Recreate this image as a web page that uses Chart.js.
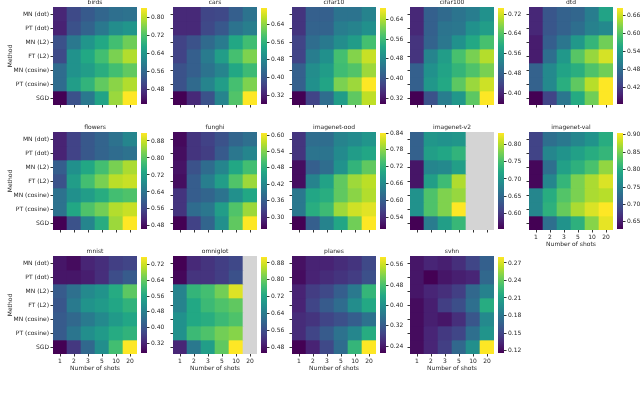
<!DOCTYPE html>
<html>
<head>
<meta charset="utf-8">
<script src="https://cdn.jsdelivr.net/npm/chart.js@4.4.0/dist/chart.umd.min.js"></script>
<style>
  html, body { margin: 0; padding: 0; background: #fff; }
  #fig { position: relative; width: 640px; height: 393px; overflow: hidden; }
  #fig canvas { position: absolute; }
</style>
</head>
<body>
<div id="fig"></div>
<script>
// x categories and row labels
const shots = ['1', '2', '3', '5', '10', '20'];
const methods = ['MN (dot)', 'PT (dot)', 'MN (L2)', 'FT (L2)', 'MN (cosine)', 'PT (cosine)', 'SGD'];

// accuracy per method (rows) x shots (cols)
const birds = [
    [0.46, 0.51, 0.535, 0.555, 0.57, 0.575],
    [0.455, 0.52, 0.55, 0.585, 0.62, 0.635],
    [0.52, 0.585, 0.635, 0.67, 0.71, 0.745],
    [0.51, 0.63, 0.67, 0.71, 0.755, 0.79],
    [0.565, 0.63, 0.65, 0.68, 0.71, 0.735],
    [0.565, 0.65, 0.69, 0.735, 0.765, 0.79],
    [0.415, 0.52, 0.585, 0.66, 0.775, 0.84],
];
const cars = [
    [0.33, 0.33, 0.37, 0.375, 0.41, 0.445],
    [0.33, 0.33, 0.375, 0.40, 0.445, 0.465],
    [0.365, 0.39, 0.43, 0.46, 0.54, 0.58],
    [0.365, 0.41, 0.46, 0.52, 0.585, 0.63],
    [0.39, 0.41, 0.445, 0.475, 0.54, 0.575],
    [0.39, 0.43, 0.475, 0.52, 0.585, 0.63],
    [0.28, 0.33, 0.39, 0.475, 0.595, 0.715],
];
const cifar10 = [
    [0.355, 0.415, 0.415, 0.445, 0.445, 0.47],
    [0.355, 0.42, 0.42, 0.46, 0.47, 0.49],
    [0.375, 0.435, 0.455, 0.485, 0.51, 0.57],
    [0.375, 0.46, 0.49, 0.57, 0.615, 0.655],
    [0.415, 0.485, 0.51, 0.565, 0.58, 0.63],
    [0.415, 0.49, 0.525, 0.61, 0.63, 0.688],
    [0.296, 0.375, 0.435, 0.51, 0.59, 0.65],
];
const cifar100 = [
    [0.40, 0.475, 0.49, 0.505, 0.52, 0.55],
    [0.40, 0.475, 0.505, 0.51, 0.55, 0.57],
    [0.415, 0.48, 0.51, 0.55, 0.59, 0.63],
    [0.415, 0.53, 0.57, 0.63, 0.665, 0.70],
    [0.475, 0.55, 0.58, 0.61, 0.635, 0.665],
    [0.475, 0.56, 0.59, 0.645, 0.685, 0.715],
    [0.357, 0.455, 0.52, 0.56, 0.645, 0.744],
];
const dtd = [
    [0.40, 0.45, 0.465, 0.47, 0.50, 0.55],
    [0.40, 0.45, 0.465, 0.48, 0.505, 0.515],
    [0.39, 0.46, 0.49, 0.535, 0.575, 0.615],
    [0.39, 0.48, 0.535, 0.60, 0.635, 0.665],
    [0.465, 0.515, 0.55, 0.565, 0.595, 0.615],
    [0.465, 0.515, 0.565, 0.605, 0.65, 0.685],
    [0.365, 0.43, 0.49, 0.56, 0.615, 0.685],
];
const flowers = [
    [0.51, 0.555, 0.59, 0.61, 0.635, 0.67],
    [0.51, 0.555, 0.59, 0.61, 0.625, 0.635],
    [0.60, 0.69, 0.735, 0.78, 0.825, 0.86],
    [0.58, 0.715, 0.78, 0.825, 0.87, 0.88],
    [0.635, 0.69, 0.715, 0.745, 0.78, 0.79],
    [0.635, 0.735, 0.79, 0.82, 0.865, 0.88],
    [0.466, 0.58, 0.67, 0.745, 0.85, 0.917],
];
const funghi = [
    [0.265, 0.31, 0.325, 0.345, 0.37, 0.385],
    [0.27, 0.31, 0.32, 0.355, 0.395, 0.415],
    [0.275, 0.345, 0.38, 0.415, 0.465, 0.50],
    [0.27, 0.36, 0.405, 0.45, 0.51, 0.555],
    [0.31, 0.36, 0.37, 0.39, 0.43, 0.465],
    [0.31, 0.38, 0.395, 0.45, 0.51, 0.555],
    [0.257, 0.325, 0.37, 0.43, 0.52, 0.607],
];
const imagenetOod = [
    [0.55, 0.62, 0.62, 0.65, 0.66, 0.675],
    [0.55, 0.63, 0.63, 0.66, 0.685, 0.70],
    [0.51, 0.60, 0.62, 0.67, 0.72, 0.755],
    [0.51, 0.65, 0.695, 0.755, 0.79, 0.805],
    [0.635, 0.70, 0.71, 0.755, 0.78, 0.80],
    [0.635, 0.71, 0.73, 0.79, 0.815, 0.825],
    [0.498, 0.60, 0.65, 0.70, 0.765, 0.84],
];
const imagenetV2 = [
    [0.64, 0.70, 0.695, 0.70, null, null],
    [0.64, 0.71, 0.72, 0.735, null, null],
    [0.57, 0.68, 0.685, 0.71, null, null],
    [0.57, 0.71, 0.745, 0.80, null, null],
    [0.695, 0.755, 0.78, 0.79, null, null],
    [0.695, 0.755, 0.78, 0.834, null, null],
    [0.554, 0.67, 0.71, 0.74, null, null],
];
const imagenetVal = [
    [0.685, 0.73, 0.74, 0.755, 0.77, 0.80],
    [0.685, 0.755, 0.77, 0.785, 0.80, 0.81],
    [0.635, 0.73, 0.785, 0.805, 0.825, 0.86],
    [0.635, 0.755, 0.81, 0.85, 0.87, 0.89],
    [0.755, 0.80, 0.83, 0.85, 0.87, 0.875],
    [0.755, 0.805, 0.84, 0.87, 0.89, 0.905],
    [0.63, 0.73, 0.77, 0.805, 0.855, 0.895],
];
const mnist = [
    [0.30, 0.285, 0.32, 0.335, 0.36, 0.37],
    [0.30, 0.30, 0.31, 0.335, 0.385, 0.41],
    [0.41, 0.45, 0.50, 0.52, 0.57, 0.635],
    [0.40, 0.47, 0.52, 0.535, 0.56, 0.585],
    [0.41, 0.435, 0.47, 0.50, 0.535, 0.56],
    [0.41, 0.46, 0.51, 0.535, 0.57, 0.585],
    [0.27, 0.35, 0.435, 0.51, 0.61, 0.76],
];
const omniglot = [
    [0.452, 0.505, 0.52, 0.535, 0.55, null],
    [0.46, 0.52, 0.52, 0.535, 0.565, null],
    [0.655, 0.75, 0.77, 0.81, 0.885, null],
    [0.655, 0.725, 0.76, 0.78, 0.795, null],
    [0.68, 0.725, 0.735, 0.76, 0.78, null],
    [0.68, 0.76, 0.78, 0.81, 0.825, null],
    [0.50, 0.635, 0.705, 0.795, 0.908, null],
];
const planes = [
    [0.23, 0.25, 0.25, 0.26, 0.27, 0.295],
    [0.225, 0.25, 0.26, 0.27, 0.28, 0.305],
    [0.25, 0.28, 0.295, 0.325, 0.365, 0.46],
    [0.25, 0.29, 0.32, 0.345, 0.395, 0.44],
    [0.26, 0.27, 0.29, 0.305, 0.325, 0.355],
    [0.26, 0.29, 0.32, 0.355, 0.385, 0.445],
    [0.213, 0.25, 0.295, 0.345, 0.46, 0.59],
];
const svhn = [
    [0.126, 0.133, 0.13, 0.138, 0.15, 0.166],
    [0.126, 0.116, 0.126, 0.13, 0.133, 0.171],
    [0.126, 0.133, 0.138, 0.146, 0.171, 0.188],
    [0.121, 0.13, 0.146, 0.155, 0.176, 0.217],
    [0.121, 0.13, 0.126, 0.138, 0.16, 0.193],
    [0.121, 0.133, 0.143, 0.15, 0.176, 0.20],
    [0.121, 0.133, 0.146, 0.171, 0.197, 0.28],
];

// colorbar tick labels
const birdsTicks = [0.48, 0.56, 0.64, 0.72, 0.80];
const carsTicks = [0.32, 0.40, 0.48, 0.56, 0.64];
const cifar10Ticks = [0.32, 0.40, 0.48, 0.56, 0.64];
const cifar100Ticks = [0.40, 0.48, 0.56, 0.64, 0.72];
const dtdTicks = [0.42, 0.48, 0.54, 0.60, 0.66];
const flowersTicks = [0.48, 0.56, 0.64, 0.72, 0.80, 0.88];
const funghiTicks = [0.30, 0.36, 0.42, 0.48, 0.54, 0.60];
const imagenetOodTicks = [0.54, 0.60, 0.66, 0.72, 0.78, 0.84];
const imagenetV2Ticks = [0.60, 0.65, 0.70, 0.75, 0.80];
const imagenetValTicks = [0.65, 0.70, 0.75, 0.80, 0.85, 0.90];
const mnistTicks = [0.32, 0.40, 0.48, 0.56, 0.64, 0.72];
const omniglotTicks = [0.48, 0.56, 0.64, 0.72, 0.80, 0.88];
const planesTicks = [0.24, 0.32, 0.40, 0.48, 0.56];
const svhnTicks = [0.12, 0.15, 0.18, 0.21, 0.24, 0.27];

const panels = [
    ['birds', birds, birdsTicks], ['cars', cars, carsTicks], ['cifar10', cifar10, cifar10Ticks],
    ['cifar100', cifar100, cifar100Ticks], ['dtd', dtd, dtdTicks],
    ['flowers', flowers, flowersTicks], ['funghi', funghi, funghiTicks],
    ['imagenet-ood', imagenetOod, imagenetOodTicks], ['imagenet-v2', imagenetV2, imagenetV2Ticks],
    ['imagenet-val', imagenetVal, imagenetValTicks],
    ['mnist', mnist, mnistTicks], ['omniglot', omniglot, omniglotTicks],
    ['planes', planes, planesTicks], ['svhn', svhn, svhnTicks],
];

Chart.defaults.font.family = 'DejaVu Sans';
Chart.defaults.font.size = 6;
Chart.defaults.color = '#262626';

const VIRIDIS = [
    [68, 1, 84], [72, 36, 117], [65, 68, 135], [53, 95, 141], [42, 120, 142], [33, 145, 140],
    [34, 168, 132], [68, 191, 112], [122, 209, 81], [189, 223, 38], [253, 231, 37],
];
function viridis(t) {
    t = Math.max(0, Math.min(1, t)) * 10;
    const i = Math.min(9, Math.floor(t)), f = t - i;
    const a = VIRIDIS[i], b = VIRIDIS[i + 1];
    return `rgb(${a.map((c, k) => Math.round(c + (b[k] - c) * f)).join(',')})`;
}

const colX = [53, 173, 292, 410, 529];
const rowY = [7, 132, 256];
const W = 84, H = 98;
const fig = document.getElementById('fig');

function addCanvas(left, top, w, h) {
    const c = document.createElement('canvas');
    c.width = w; c.height = h;
    c.style.left = left + 'px'; c.style.top = top + 'px';
    c.style.width = w + 'px'; c.style.height = h + 'px';
    fig.appendChild(c);
    return c;
}

panels.forEach(([name, vals, cbTicks], k) => {
    const col = k % 5, row = Math.floor(k / 5);
    const hx = colX[col], hy = rowY[row];
    const flat = vals.flat().filter(v => v != null);
    const lo = Math.min(...flat), hi = Math.max(...flat);
    const showX = row === 2 || name === 'imagenet-val';
    const showY = col === 0;

    const heat = addCanvas(hx - 50, hy - 8, 50 + W, 8 + H + 20);
    new Chart(heat, {
        type: 'bar',
        data: {
            labels: shots,
            datasets: methods.map((m, i) => ({
                label: m,
                data: vals[i].map(() => [i, i + 1]),
                backgroundColor: vals[i].map(v => v == null ? '#d4d4d4' : viridis((v - lo) / (hi - lo))),
                borderWidth: 0,
            })),
        },
        options: {
            responsive: false, animation: false, devicePixelRatio: 1,
            layout: { padding: 0 },
            datasets: { bar: { barPercentage: 1, categoryPercentage: 1, grouped: false } },
            plugins: {
                legend: { display: false }, tooltip: { enabled: false },
                title: {
                    display: true, text: name, fullSize: false,
                    font: { size: 6, weight: 'normal', lineHeight: 1 },
                    padding: { top: 0, bottom: 2 }, color: '#262626',
                },
            },
            scales: {
                x: {
                    grid: { offset: false, drawOnChartArea: false, tickLength: 2.5, tickColor: '#333' },
                    border: { display: false },
                    ticks: { padding: 1, maxRotation: 0, callback: (v, i) => showX ? shots[i] : '' },
                    title: { display: showX, text: 'Number of shots', padding: { top: 0, bottom: 1.5 } },
                    afterFit: s => { s.height = 20; },
                },
                y: {
                    min: 0, max: 7, reverse: true,
                    afterBuildTicks: s => { s.ticks = methods.map((m, i) => ({ value: i + 0.5 })); },
                    grid: { drawOnChartArea: false, tickLength: 2.5, tickColor: '#333' },
                    border: { display: false },
                    ticks: { padding: 1.5, callback: (v, i) => showY ? methods[i] : '' },
                    title: { display: showY, text: 'Method', padding: { top: 3.4, bottom: 0 } },
                    afterFit: s => { s.width = 50; },
                },
            },
        },
    });

    const cb = addCanvas(hx + W + 4, hy - 4, 40, H + 8);
    new Chart(cb, {
        type: 'bar',
        data: {
            labels: [''],
            datasets: [{
                data: [[lo, hi]],
                borderWidth: 0,
                backgroundColor: ctx => {
                    const a = ctx.chart.chartArea;
                    if (!a) return '#888';
                    const g = ctx.chart.ctx.createLinearGradient(0, a.bottom, 0, a.top);
                    VIRIDIS.forEach((c, i) => g.addColorStop(i / 10, `rgb(${c.join(',')})`));
                    return g;
                },
            }],
        },
        options: {
            responsive: false, animation: false, devicePixelRatio: 1,
            layout: { padding: { top: 4, bottom: 4, left: 0, right: 0 } },
            datasets: { bar: { barPercentage: 1, categoryPercentage: 1 } },
            plugins: { legend: { display: false }, tooltip: { enabled: false } },
            scales: {
                x: { display: false },
                y: {
                    position: 'right', min: lo, max: hi,
                    afterBuildTicks: s => { s.ticks = cbTicks.map(v => ({ value: v })); },
                    grid: { drawOnChartArea: false, tickLength: 2.5, tickColor: '#333' },
                    border: { display: false },
                    ticks: { padding: 1.5, callback: v => v.toFixed(2) },
                    afterFit: s => { s.width = 34; },
                },
            },
        },
    });
});
</script>
</body>
</html>
